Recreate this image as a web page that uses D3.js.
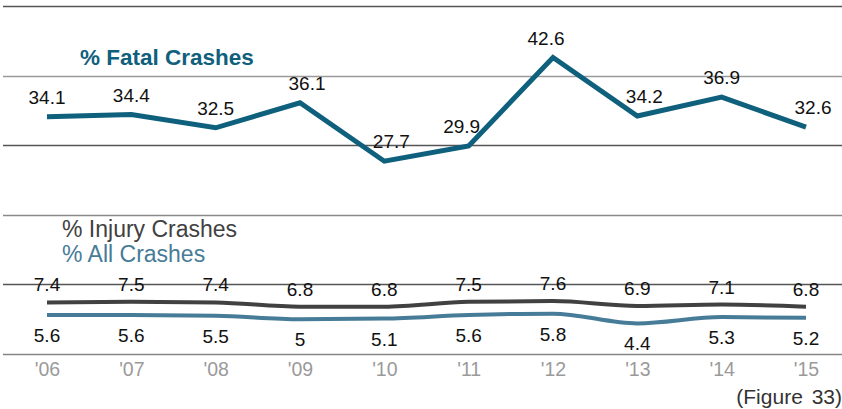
<!DOCTYPE html>
<html>
<head>
<meta charset="utf-8">
<script src="https://cdn.jsdelivr.net/npm/d3@7"></script>
<style>
  html, body { margin: 0; padding: 0; background: #fff; }
  svg { display: block; font-family: "Liberation Sans", Arial, Helvetica, sans-serif; }
</style>
</head>
<body>
<svg id="chart" width="842" height="409"></svg>
<script>
// Crash shares by year, 2006–2015
const years = ["'06", "'07", "'08", "'09", "'10", "'11", "'12", "'13", "'14", "'15"];
const fatal = [34.1, 34.4, 32.5, 36.1, 27.7, 29.9, 42.6, 34.2, 36.9, 32.6];
const injury = [7.4, 7.5, 7.4, 6.8, 6.8, 7.5, 7.6, 6.9, 7.1, 6.8];
const allCrashes = [5.6, 5.6, 5.5, 5.0, 5.1, 5.6, 5.8, 4.4, 5.3, 5.2];
const gridValues = [0, 10, 20, 30, 40, 50];

const svg = d3.select("#chart");

const x = d3.scalePoint().domain(years).range([47, 806]);
const y = d3.scaleLinear().domain([0, 50]).range([354, 6]);

// horizontal gridlines
const gridColor = { 0: "#858585", 10: "#555", 20: "#8a8a8a", 30: "#555", 40: "#9a9a9a", 50: "#555" };
svg.append("g").selectAll("line")
  .data(gridValues)
  .join("line")
  .attr("x1", 3).attr("x2", 842)
  .attr("y1", d => Math.round(y(d)) + 0.5)
  .attr("y2", d => Math.round(y(d)) + 0.5)
  .attr("stroke", d => gridColor[d])
  .attr("stroke-width", 1.3);

// x-axis year labels
const xAxis = d3.axisBottom(x).tickSize(0).tickPadding(0);
const gx = svg.append("g").attr("transform", "translate(0,362)").call(xAxis);
gx.select(".domain").remove();
gx.selectAll("text")
  .attr("fill", "#9a9a9a")
  .attr("font-size", 19.5)
  .attr("font-family", "Liberation Sans, Arial, sans-serif")
  .attr("dy", "0.72em");

// nudge a label sideways, away from the steeper upward neighbouring segment
function sideNudge(values, i) {
  const cur = values[i];
  const leftRise = i > 0 ? values[i - 1] - cur : 0;
  const rightRise = i < values.length - 1 ? values[i + 1] - cur : 0;
  const diff = leftRise - rightRise;
  return Math.abs(diff) > 3 ? Math.sign(diff) * 7 : 0;
}

const series = [
  { values: fatal, color: "#0f607c", width: 5, curve: d3.curveLinear, labelDy: -13, nudge: true },
  { values: injury, color: "#414141", width: 4, curve: d3.curveMonotoneX, labelDy: -11, nudge: false },
  { values: allCrashes, color: "#477c98", width: 4, curve: d3.curveMonotoneX, labelDy: 27, nudge: false }
];

series.forEach(s => {
  const line = d3.line()
    .x((d, i) => x(years[i]))
    .y(d => y(d))
    .curve(s.curve);
  svg.append("path")
    .datum(s.values)
    .attr("d", line)
    .attr("fill", "none")
    .attr("stroke", s.color)
    .attr("stroke-width", s.width)
    .attr("stroke-linejoin", "miter");

  svg.append("g").selectAll("text")
    .data(s.values)
    .join("text")
    .attr("x", (d, i) => x(years[i]) + (s.nudge ? sideNudge(s.values, i) : 0))
    .attr("y", d => y(d) + s.labelDy)
    .attr("text-anchor", "middle")
    .attr("font-size", 19)
    .attr("fill", "#111")
    .text(d => d3.format("")(d));
});

// series names
svg.append("text").attr("x", 80).attr("y", 65)
  .attr("font-size", 22.5).attr("font-weight", "bold").attr("fill", "#0f607c")
  .text("% Fatal Crashes");
svg.append("text").attr("x", 62).attr("y", 237)
  .attr("font-size", 23).attr("fill", "#414141")
  .text("% Injury Crashes");
svg.append("text").attr("x", 62).attr("y", 262)
  .attr("font-size", 23).attr("fill", "#477c98")
  .text("% All Crashes");

// figure reference
svg.append("text").attr("x", 842).attr("y", 404)
  .attr("text-anchor", "end")
  .attr("font-size", 21).attr("fill", "#333")
  .attr("word-spacing", 3)
  .text("(Figure 33)");
</script>
</body>
</html>
